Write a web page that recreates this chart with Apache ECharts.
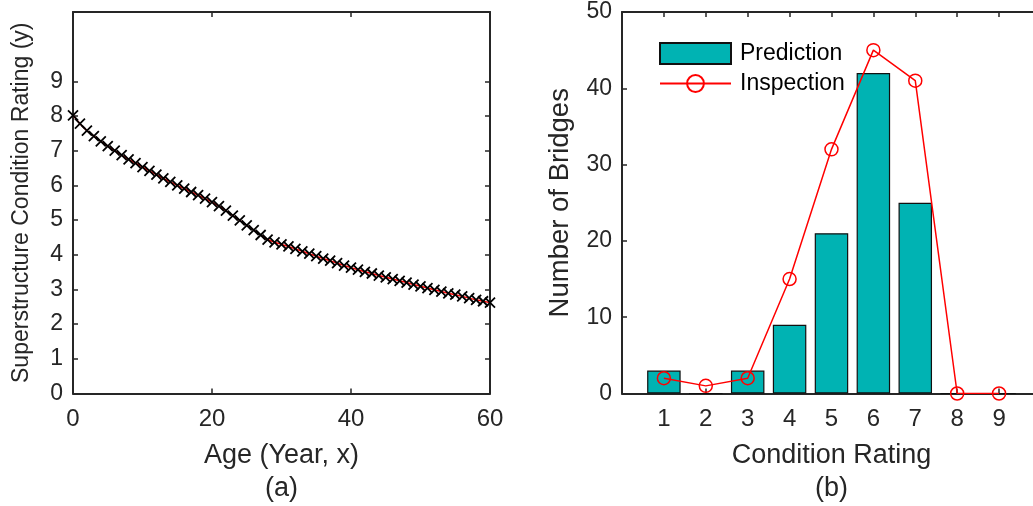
<!DOCTYPE html>
<html>
<head>
<meta charset="utf-8">
<script src="https://cdn.jsdelivr.net/npm/echarts@6.0.0/dist/echarts.min.js"></script>
<style>
html,body{margin:0;padding:0;background:#fff;}
#main{width:1033px;height:506px;}
</style>
</head>
<body>
<div id="main"></div>
<script>
// ---- Data (a): rating vs age ----
var ages = [0,1,2,3,4,5,6,7,8,9,10,11,12,13,14,15,16,17,18,19,20,21,22,23,24,25,26,27,28,29,30,31,32,33,34,35,36,37,38,39,40,41,42,43,44,45,46,47,48,49,50,51,52,53,54,55,56,57,58,59,60];
var ratings = [8.02,7.78,7.58,7.42,7.27,7.13,7.00,6.87,6.75,6.64,6.53,6.42,6.31,6.20,6.10,6.00,5.91,5.81,5.72,5.62,5.52,5.40,5.27,5.13,4.99,4.85,4.71,4.57,4.44,4.36,4.30,4.24,4.17,4.10,4.03,3.96,3.89,3.83,3.76,3.69,3.63,3.57,3.51,3.46,3.40,3.35,3.30,3.25,3.20,3.14,3.09,3.04,2.99,2.94,2.89,2.85,2.80,2.75,2.70,2.66,2.62];
var ageTicks = [0,20,40,60];
var ratingTicks = [0,1,2,3,4,5,6,7,8,9];

// ---- Data (b): histogram ----
var conditionRatings = [1,2,3,4,5,6,7,8,9];
var prediction = [3,0,3,9,21,42,25,0,0];
var inspection = [2,1,2,15,32,45,41,0,0];
var countTicks = [0,10,20,30,40,50];

var TXT = '#262626';
var FONT = "'Liberation Sans', Arial, Helvetica, sans-serif";

function pairs(xs, ys){ var o=[]; for(var i=0;i<xs.length;i++){o.push([xs[i],ys[i]]);} return o; }

function mkX(grid, min, max, interval, ticks, pos, showLabel, name, namePad){
  return {
    type:'value', gridIndex:grid, min:min, max:max, interval:interval, position:pos,
    axisLine:{show:true, onZero:false, lineStyle:{color:TXT, width:2}},
    axisTick:{show:true, inside:true, length:5, customValues:ticks, lineStyle:{color:TXT, width:1.5}},
    axisLabel:{show:showLabel, customValues:ticks, color:TXT, fontSize:24, fontFamily:FONT, margin:14},
    splitLine:{show:false},
    name: name || '', nameLocation:'middle', nameGap:49,
    nameTextStyle:{color:TXT, fontSize:27, fontFamily:FONT, padding:namePad || 0}
  };
}
function mkY(grid, min, max, interval, ticks, pos, showLabel, name, gap, nameSize, showLine){
  return {
    type:'value', gridIndex:grid, min:min, max:max, interval:interval, position:pos,
    axisLine:{show:showLine !== false, onZero:false, lineStyle:{color:TXT, width:2}},
    axisTick:{show:showLine !== false, inside:true, length:5, customValues:ticks, lineStyle:{color:TXT, width:1.5}},
    axisLabel:{show:showLabel, customValues:ticks, color:TXT, fontSize:23, fontFamily:FONT, margin:10},
    splitLine:{show:false},
    name: name || '', nameLocation:'middle', nameGap:gap||40,
    nameTextStyle:{color:TXT, fontSize:nameSize||23, fontFamily:FONT}
  };
}

var chart = echarts.init(document.getElementById('main'), null, {renderer:'canvas'});
// panel (b) axis runs 0..10 in the original but is cut by the image edge at ~9.81
var option = {
  backgroundColor:'#fff',
  animation:false,
  textStyle:{fontFamily:FONT},
  grid:[
    {left:73, top:12, width:417, height:381.5},
    {left:622, top:12, width:411, height:381.5}
  ],
  xAxis:[
    mkX(0, 0, 60, 20, ageTicks, 'bottom', true, 'Age (Year, x)'),
    mkX(0, 0, 60, 20, ageTicks, 'top', false),
    mkX(1, 0, 9.81, 1, conditionRatings, 'bottom', true, 'Condition Rating', [0,0,0,8]),
    mkX(1, 0, 9.81, 1, conditionRatings, 'top', false)
  ],
  yAxis:[
    mkY(0, 0, 11, 1, ratingTicks, 'left', true, 'Superstructure Condition Rating (y)', 40, 23),
    mkY(0, 0, 11, 1, ratingTicks, 'right', false),
    mkY(1, 0, 50, 10, countTicks, 'left', true, 'Number of Bridges', 48, 27.5),
    mkY(1, 0, 50, 10, countTicks, 'right', false, '', 0, 0, false)
  ],
  legend:{
    orient:'vertical', left:659, top:42, padding:0, itemWidth:71, itemHeight:21, itemGap:7,
    textStyle:{color:'#000', fontSize:23, fontFamily:FONT, padding:[0,0,0,4]},
    data:[{name:'Prediction', icon:'rect'}, {name:'Inspection'}]
  },
  series:[
    {
      type:'line', name:'fit', xAxisIndex:0, yAxisIndex:0,
      data:pairs(ages, ratings), showSymbol:false, symbol:'none',
      lineStyle:{color:'#ff0000', width:1.5}, z:2
    },
    {
      type:'line', name:'pts', xAxisIndex:0, yAxisIndex:0,
      data:pairs(ages, ratings),
      symbol:'path://M0,0L10,10M10,0L0,10', symbolSize:10, showAllSymbol:true,
      lineStyle:{width:0, opacity:0},
      itemStyle:{color:'#000', borderColor:'#000', borderWidth:1.8}, z:3
    },
    {
      type:'bar', name:'Prediction', xAxisIndex:2, yAxisIndex:2,
      data:pairs(conditionRatings, prediction), barWidth:33.5,
      itemStyle:{color:'#00B3B3', borderColor:'#111', borderWidth:1.2}, z:2
    },
    {
      type:'line', name:'Inspection', xAxisIndex:2, yAxisIndex:2,
      data:pairs(conditionRatings, inspection),
      symbol:'circle', symbolSize:13, showAllSymbol:true,
      lineStyle:{color:'#ff0000', width:1.5},
      itemStyle:{color:'rgba(0,0,0,0)', borderColor:'#ff0000', borderWidth:1.5}, z:3
    }
  ],
  graphic:[
    {type:'text', x:281.5, y:489, style:{text:'(a)', fill:TXT, font:"27px 'Liberation Sans', Arial, sans-serif", textAlign:'center', textVerticalAlign:'middle'}},
    {type:'text', x:831.5, y:489, style:{text:'(b)', fill:TXT, font:"27px 'Liberation Sans', Arial, sans-serif", textAlign:'center', textVerticalAlign:'middle'}}
  ]
};
chart.setOption(option);
</script>
</body>
</html>
